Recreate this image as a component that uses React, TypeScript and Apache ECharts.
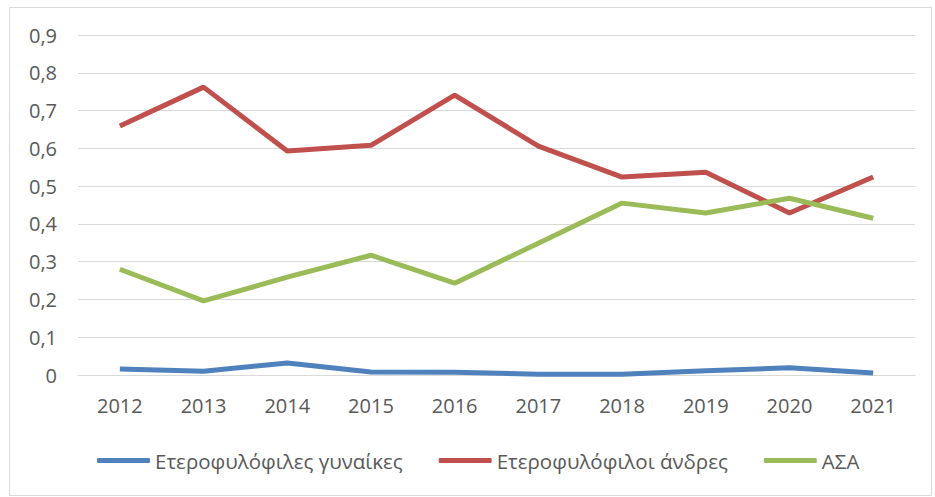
import React, { useEffect, useRef } from "react";
import * as echarts from "echarts";

const years = ["2012", "2013", "2014", "2015", "2016", "2017", "2018", "2019", "2020", "2021"];
const seriesNames = ["Ετεροφυλόφιλες γυναίκες", "Ετεροφυλόφιλοι άνδρες", "ΑΣΑ"];
const women = [0.016, 0.01, 0.032, 0.008, 0.007, 0.002, 0.002, 0.011, 0.019, 0.005];
const men = [0.659, 0.762, 0.593, 0.608, 0.741, 0.606, 0.524, 0.537, 0.429, 0.524];
const asa = [0.28, 0.196, 0.259, 0.317, 0.243, 0.349, 0.455, 0.429, 0.468, 0.415];
const colors = ["#4F81BD", "#C0504D", "#9BBB59"];

export default function App() {
  const ref = useRef<HTMLDivElement>(null);
  useEffect(() => {
    const chart = echarts.init(ref.current!, null, { renderer: "svg" });
    const font = "'Open Sans', 'Noto Sans', sans-serif";
    const mk = (name: string, data: number[], color: string) => ({
      name,
      type: "line",
      data,
      symbol: "none",
      lineStyle: { color, width: 5 },
      itemStyle: { color },
    });
    chart.setOption({
      animation: false,
      backgroundColor: "#fff",
      textStyle: { fontFamily: font },
      graphic: [
        {
          type: "rect",
          shape: { x: 9.5, y: 7.5, width: 922, height: 488 },
          style: { fill: "none", stroke: "#D9D9D9", lineWidth: 1 },
          silent: true,
          z: -1,
        },
      ],
      grid: { left: 78, right: 20, top: 35, bottom: 122, containLabel: false },
      xAxis: {
        type: "category",
        data: years,
        boundaryGap: true,
        axisLine: { show: true, lineStyle: { color: "#D9D9D9", width: 1 } },
        axisTick: { show: false },
        axisLabel: { color: "#595959", fontSize: 20, margin: 20, fontFamily: font },
      },
      yAxis: {
        type: "value",
        min: 0,
        max: 0.9,
        interval: 0.1,
        axisLine: { show: false },
        axisTick: { show: false },
        splitLine: { lineStyle: { color: "#D9D9D9", width: 1 } },
        axisLabel: {
          color: "#595959",
          fontSize: 20,
          margin: 21,
          fontFamily: font,
          formatter: (v: number) => (Math.round(v * 10) / 10).toString().replace(".", ","),
        },
      },
      legend: {
        top: 445,
        left: 92,
        itemWidth: 53,
        itemHeight: 5,
        itemGap: 36,
        icon: "roundRect",
        textStyle: { color: "#595959", fontSize: 20.5, fontFamily: font },
        data: seriesNames,
      },
      series: [
        mk(seriesNames[0], women, colors[0]),
        mk(seriesNames[1], men, colors[1]),
        mk(seriesNames[2], asa, colors[2]),
      ],
    });
    return () => chart.dispose();
  }, []);
  return (
    <div
      ref={ref}
      style={{ position: "fixed", left: 0, top: 0, width: 935, height: 497 }}
    />
  );
}
